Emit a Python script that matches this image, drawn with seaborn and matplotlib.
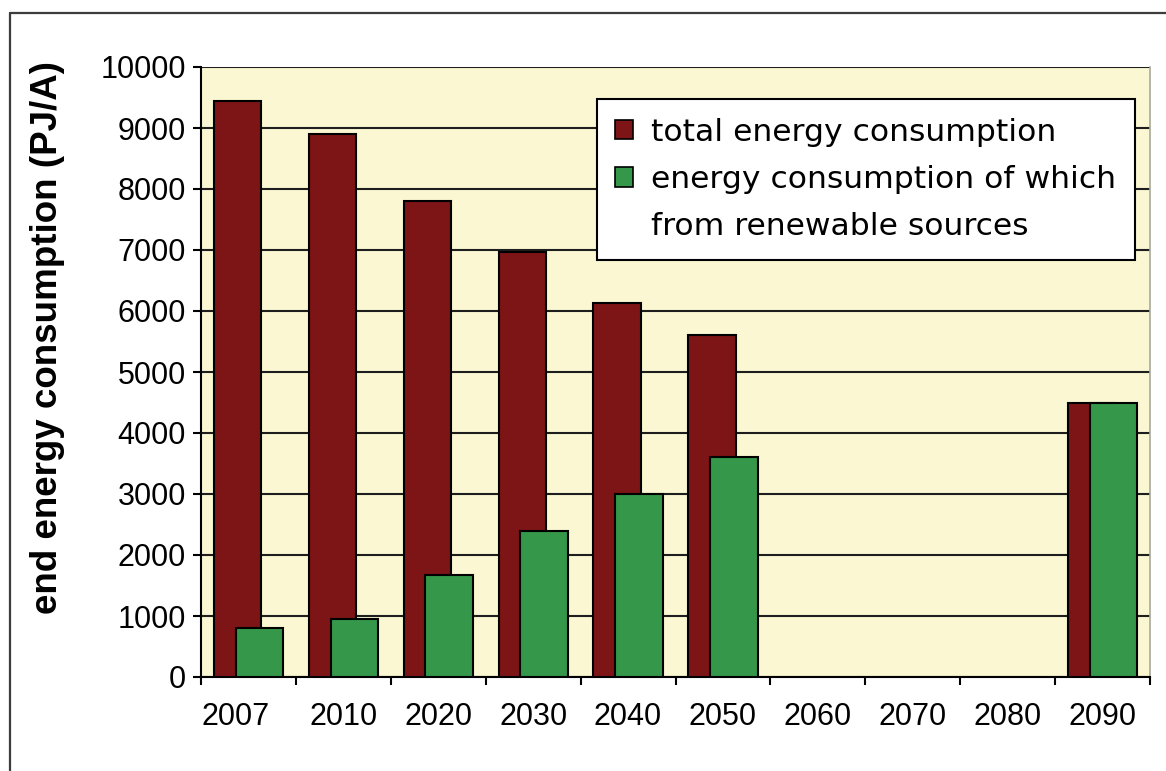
import numpy as np
import pandas as pd
import matplotlib
matplotlib.use("Agg")
import matplotlib.pyplot as plt
from matplotlib.patches import Patch
from matplotlib.lines import Line2D
from matplotlib.transforms import ScaledTranslation
import seaborn as sns

# ---- data -------------------------------------------------------------
years = ["2007", "2010", "2020", "2030", "2040", "2050", "2060", "2070", "2080", "2090"]
total_energy = [9440, 8900, 7800, 6970, 6130, 5600, np.nan, np.nan, np.nan, 4500]
renewable_energy = [800, 950, 1670, 2400, 3000, 3600, np.nan, np.nan, np.nan, 4500]
y_ticks = list(range(0, 10001, 1000))

legend_labels = ["total energy consumption",
                 "energy consumption of which",
                 "from renewable sources"]
y_label = "end energy consumption (PJ/A)"

# ---- style ------------------------------------------------------------
RED = "#7D1416"
GREEN = "#35974A"
PLOT_BG = "#FAF7D2"
FRAME = "#3c3c3c"

sns.set_theme(style="white")
plt.rcParams["font.family"] = ["Liberation Sans", "DejaVu Sans"]

W, H = 1166, 771
fig = plt.figure(figsize=(W / 100, H / 100), dpi=100)
fig.patch.set_facecolor("white")
ax = fig.add_axes([201 / W, 1 - 677 / H, 949 / W, 610 / H])
ax.set_facecolor(PLOT_BG)

df = pd.DataFrame({"pos": np.arange(len(years)),
                   "total": total_energy,
                   "renewable": renewable_energy})

# overlapping clustered bars: the green series sits in front of the red one
offset = 0.115
bar_w = 0.5
d_tot = df.dropna(subset=["total"])
d_ren = df.dropna(subset=["renewable"])
sns.barplot(x=d_tot["pos"] - offset, y=d_tot["total"], native_scale=True,
            width=bar_w, color=RED, saturation=1, edgecolor="black",
            linewidth=1.5, errorbar=None, ax=ax, zorder=3)
sns.barplot(x=d_ren["pos"] + offset, y=d_ren["renewable"], native_scale=True,
            width=bar_w, color=GREEN, saturation=1, edgecolor="black",
            linewidth=1.5, errorbar=None, ax=ax, zorder=4)

# ---- axes -------------------------------------------------------------
ax.set_xlim(-0.5, len(years) - 0.5)
ax.set_ylim(0, 10000)
ax.set_yticks(y_ticks)
ax.set_yticklabels([str(v) for v in y_ticks], fontsize=22, color="black")
ax.yaxis.grid(True, color="#1e1e1e", linewidth=1.5)
ax.xaxis.grid(False)
ax.set_axisbelow(True)

ax.set_xticks(np.arange(-0.5, len(years), 1.0))
ax.set_xticklabels([])
ax.set_xticks(np.arange(len(years)), minor=True)
ax.set_xticklabels(years, minor=True, fontsize=22, color="black")
ax.tick_params(axis="x", which="major", direction="out", length=6, width=1.5,
               color="black", bottom=True)
ax.tick_params(axis="x", which="minor", length=0, pad=18, bottom=True)
ax.tick_params(axis="y", direction="out", length=6, width=1.5, color="black",
               pad=5, left=True)

# the first category label sits a little to the left of its slot
first = ax.get_xticklabels(minor=True)[0]
first.set_transform(first.get_transform()
                    + ScaledTranslation(-13 / 100, 0, fig.dpi_scale_trans))

ax.set_xlabel("")
ax.set_ylabel("")
for side in ("left", "bottom"):
    ax.spines[side].set_color("black")
    ax.spines[side].set_linewidth(1.5)
ax.spines["top"].set_visible(False)
ax.spines["right"].set_color("#a8a8a0")
ax.spines["right"].set_linewidth(1.2)

fig.text(48 / W, 1 - 337 / H, y_label, rotation=90, fontsize=26.5,
         fontweight="bold", ha="center", va="center", color="black")

# ---- legend -----------------------------------------------------------
handles = [Patch(facecolor=RED, edgecolor="black", linewidth=1.2),
           Patch(facecolor=GREEN, edgecolor="black", linewidth=1.2),
           Patch(facecolor="none", edgecolor="none")]
leg = ax.legend(handles, legend_labels, loc="upper right",
                bbox_to_anchor=(1135 / W, 1 - 99 / H),
                bbox_transform=fig.transFigure, borderaxespad=0,
                frameon=True, fancybox=False, framealpha=1,
                facecolor="white", edgecolor="black",
                prop={"family": "DejaVu Sans", "size": 22.6},
                labelcolor="black",
                handlelength=0.57, handleheight=0.57, handletextpad=0.57,
                labelspacing=0.58, borderpad=0.6)
leg.get_frame().set_linewidth(1.5)
leg.set_zorder(10)

# ---- outer frame ------------------------------------------------------
fig.add_artist(Line2D([10 / W, 10 / W], [0, 1 - 13 / H], transform=fig.transFigure,
                      color=FRAME, linewidth=1.6))
fig.add_artist(Line2D([10 / W, 1], [1 - 13 / H, 1 - 13 / H], transform=fig.transFigure,
                      color=FRAME, linewidth=1.6))

fig.savefig("out.png", dpi=100)
